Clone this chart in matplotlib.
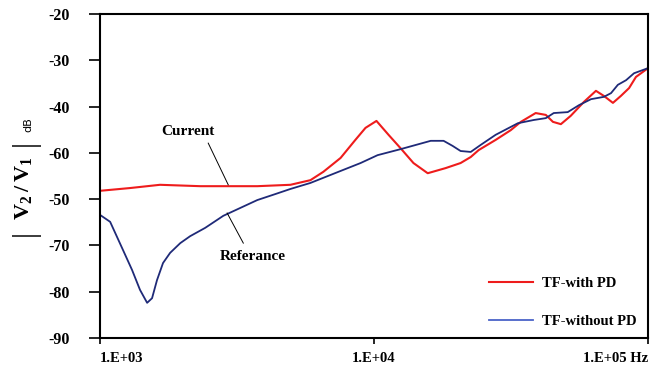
import numpy as np
import matplotlib
matplotlib.use("Agg")
import matplotlib.pyplot as plt

plt.rcParams['font.family'] = ['Liberation Serif', 'DejaVu Serif']
plt.rcParams['font.weight'] = 'bold'
plt.rcParams['mathtext.fontset'] = 'custom'
plt.rcParams['mathtext.rm'] = 'Liberation Serif'
plt.rcParams['mathtext.bf'] = 'Liberation Serif:bold'

# TF-with PD (red), log10 of frequency in Hz and level in dB
with_pd_logf = [3.000, 3.110, 3.219, 3.366, 3.574, 3.695, 3.768, 3.815, 3.878, 3.932,
                3.969, 4.009, 4.053, 4.097, 4.144, 4.196, 4.261, 4.316, 4.353, 4.382,
                4.444, 4.499, 4.536, 4.590, 4.627, 4.653, 4.682, 4.718, 4.766, 4.810,
                4.839, 4.872, 4.901, 4.931, 4.956, 5.000]
with_pd_db = [-58.2, -57.6, -56.9, -57.2, -57.2, -56.9, -55.9, -54.1, -51.1, -47.2,
              -44.6, -43.1, -46.1, -49.0, -52.2, -54.4, -53.3, -52.2, -50.9, -49.4,
              -47.2, -45.1, -43.3, -41.4, -41.8, -43.3, -43.8, -42.0, -39.0, -36.6,
              -37.7, -39.2, -37.7, -36.0, -33.6, -31.7]

# TF-without PD (blue / reference)
without_pd_logf = [3.000, 3.037, 3.084, 3.117, 3.146, 3.172, 3.190, 3.208, 3.230, 3.256,
                   3.293, 3.329, 3.384, 3.450, 3.512, 3.574, 3.640, 3.695, 3.768, 3.870,
                   3.951, 4.013, 4.097, 4.152, 4.207, 4.254, 4.287, 4.316, 4.353, 4.389,
                   4.444, 4.525, 4.583, 4.627, 4.656, 4.707, 4.748, 4.792, 4.839, 4.865,
                   4.890, 4.920, 4.949, 5.000]
without_pd_db = [-63.4, -64.9, -71.0, -75.3, -79.6, -82.4, -81.4, -77.5, -73.8, -71.6,
                 -69.5, -68.0, -66.2, -63.6, -61.9, -60.2, -58.9, -57.8, -56.5, -54.1,
                 -52.2, -50.5, -49.2, -48.3, -47.4, -47.4, -48.5, -49.6, -49.8, -48.3,
                 -46.1, -43.6, -42.9, -42.5, -41.4, -41.2, -39.7, -38.4, -37.9, -37.1,
                 -35.3, -34.3, -32.8, -31.7]

y_ticks = [-20, -30, -40, -50, -60, -70, -80, -90]
y_tick_labels = ['-20', '-30', '-40', '-60', '-50', '-70', '-80', '-90']
x_ticks = [1e3, 1e4, 1e5]
x_tick_labels = ['1.E+03', '1.E+04', '1.E+05 Hz']

fig = plt.figure(figsize=(6.71, 3.67), dpi=100)
ax = fig.add_axes([100 / 671, 29 / 367, 548 / 671, 324 / 367])

ax.plot(10 ** np.array(with_pd_logf), with_pd_db, color='#ee1c1c', linewidth=1.5,
        label='TF-with PD')
ax.plot(10 ** np.array(without_pd_logf), without_pd_db, color='#1f2a78', linewidth=1.3,
        label='TF-without PD')

ax.set_xscale('log')
ax.set_xlim(1e3, 1e5)
ax.set_ylim(-90, -20)
ax.set_yticks(y_ticks)
ax.set_yticklabels(y_tick_labels, fontsize=11.5)
ax.set_xticks(x_ticks)
ax.set_xticklabels(x_tick_labels, fontsize=10.5)
ax.xaxis.set_minor_locator(matplotlib.ticker.NullLocator())
ax.tick_params(axis='y', direction='out', length=8, width=1.2, pad=14)
ax.tick_params(axis='x', direction='out', length=4, width=1.2, pad=6)
xlabels = ax.get_xticklabels()
xlabels[0].set_horizontalalignment('left')
xlabels[2].set_horizontalalignment('right')

for spine in ax.spines.values():
    spine.set_linewidth(1.5)

# y label: |V2/V1| with a small dB
fig.text(23 / 671, 1 - 188 / 367, r'$\mathbf{V_2\,/\,V_1}$', fontsize=16, rotation=90,
         ha='center', va='center')
fig.text(25 / 671, 1 - 143 / 367, '|', fontsize=22, fontweight='normal', rotation=90,
         ha='center', va='center')
fig.text(25 / 671, 1 - 233 / 367, '|', fontsize=22, fontweight='normal', rotation=90,
         ha='center', va='center')
fig.text(28 / 671, 1 - 125 / 367, 'dB', fontsize=8, fontweight='normal',
         family='DejaVu Sans', rotation=90, ha='center', va='center')

# callouts
ax.text(10 ** 3.322, -45.3, 'Current', fontsize=11, ha='center', va='center')
ax.plot([10 ** 3.395, 10 ** 3.468], [-47.9, -56.9], color='black', linewidth=0.7)
ax.text(10 ** 3.559, -72.5, 'Referance', fontsize=11, ha='center', va='center')
ax.plot([10 ** 3.464, 10 ** 3.523], [-63.0, -69.5], color='black', linewidth=0.7)

leg = ax.legend(loc='lower right', bbox_to_anchor=(0.997, 0.0), frameon=False,
                fontsize=10.5, handlelength=3.0, labelspacing=1.7, handletextpad=0.6,
                borderaxespad=0.3)
leg.legend_handles[1].set_color('#4a63c8')

fig.savefig('out.png', dpi=100)
